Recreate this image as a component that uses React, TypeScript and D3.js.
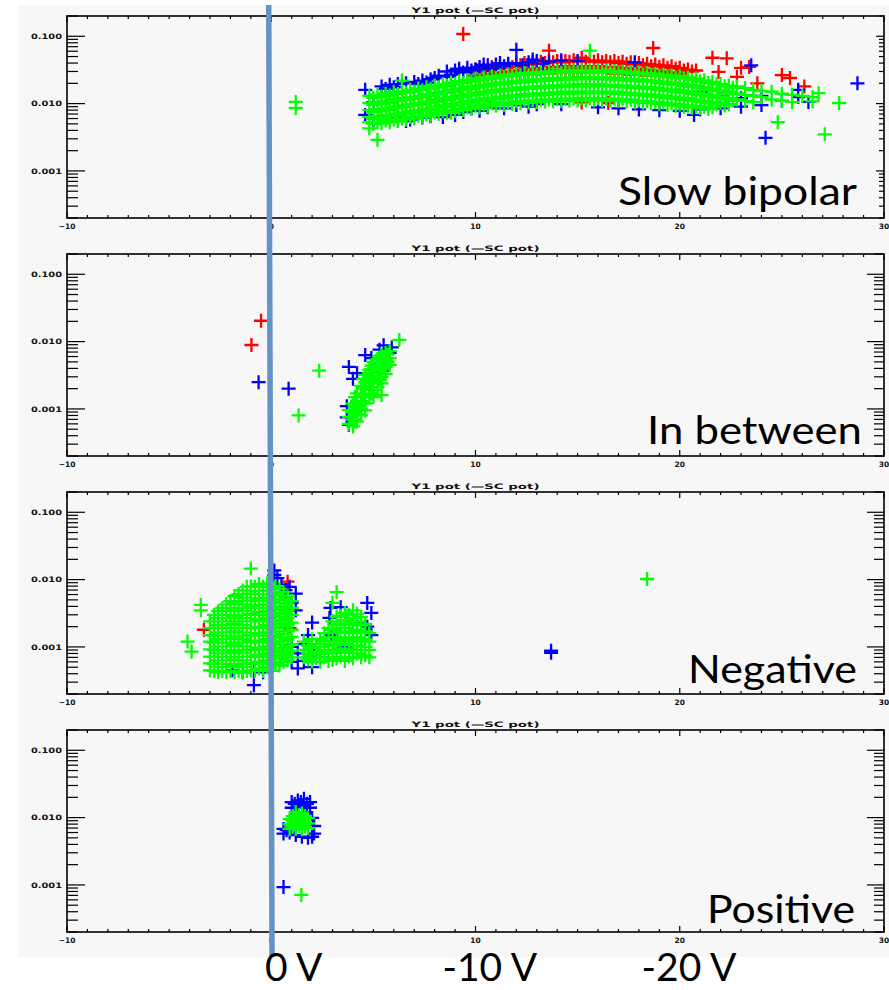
import React, { useEffect } from 'react';
import * as d3 from 'd3';

// ---------- axis definitions ----------
const xDomain = [-10, 30];
const yDomain = [0.0002, 0.2];
const xTickValues = [-10, 0, 10, 20, 30];
const xTickLabels = ['\u221210', '0', '10', '20', '30'];
const yTickValues = [0.1, 0.01, 0.001];
const yTickLabels = ['0.100', '0.010', '0.001'];
const panelTitle = 'Y1  pot (\u2014SC pot)';
const panelNames = ['Slow bipolar', 'In between', 'Negative', 'Positive'];
const voltLabels = ['0 V', '-10 V', '-20 V'];
const voltLabelCenters = [1.1, 10.7, 20.45];

// ---------- data: columns [x, y1, y2, ...] ----------
const slowGreen: number[][] = [
  [1.2, 0.0106, 0.0086],
  [4.8, 0.0043, 0.013, 0.0102, 0.008, 0.0063, 0.0053],
  [5.2, 0.0029, 0.0135, 0.0105, 0.0083, 0.0065, 0.0053],
  [5.6, 0.014, 0.011, 0.0086, 0.0068, 0.0056],
  [6.0, 0.0148, 0.0116, 0.009, 0.0071, 0.0058],
  [6.4, 0.022, 0.0152, 0.012, 0.0094, 0.0074, 0.006],
  [6.8, 0.016, 0.0125, 0.0098, 0.0077, 0.0063],
  [7.2, 0.0168, 0.013, 0.0102, 0.008, 0.0066],
  [7.6, 0.0175, 0.0138, 0.0108, 0.0085, 0.0069],
  [8.0, 0.0185, 0.0145, 0.0114, 0.009, 0.0073],
  [8.4, 0.0195, 0.0152, 0.012, 0.0094, 0.0077],
  [8.8, 0.0205, 0.016, 0.0126, 0.0099, 0.008, 0.0073],
  [9.2, 0.0215, 0.0168, 0.0132, 0.0104, 0.0084],
  [9.6, 0.0225, 0.0177, 0.0139, 0.0109, 0.0088],
  [10.0, 0.0235, 0.0185, 0.0145, 0.0114, 0.0093],
  [10.4, 0.0245, 0.0192, 0.0151, 0.0119, 0.0097],
  [10.8, 0.0255, 0.02, 0.0157, 0.0123, 0.0101],
  [11.2, 0.0262, 0.0206, 0.0162, 0.0127, 0.0104],
  [11.6, 0.027, 0.0212, 0.0167, 0.0131, 0.0106],
  [12.0, 0.0278, 0.0218, 0.0172, 0.0135, 0.0108],
  [12.4, 0.0285, 0.0224, 0.0176, 0.0138, 0.011],
  [12.8, 0.029, 0.0228, 0.0179, 0.0141, 0.0112],
  [13.2, 0.0295, 0.0232, 0.0182, 0.0143, 0.0114],
  [13.6, 0.03, 0.0236, 0.0185, 0.0145, 0.0115],
  [14.0, 0.0305, 0.024, 0.0188, 0.0148, 0.0117],
  [14.4, 0.031, 0.0243, 0.019, 0.015, 0.0118],
  [14.8, 0.0312, 0.0245, 0.0192, 0.0151, 0.0119],
  [15.2, 0.0315, 0.0247, 0.0194, 0.0152, 0.012],
  [15.6, 0.061, 0.0315, 0.0247, 0.0194, 0.0152, 0.012],
  [16.0, 0.0315, 0.0247, 0.0194, 0.0152, 0.012],
  [16.4, 0.031, 0.0244, 0.0192, 0.0151, 0.0119],
  [16.8, 0.0305, 0.024, 0.019, 0.015, 0.0118],
  [17.2, 0.03, 0.0236, 0.0186, 0.0147, 0.0116],
  [17.6, 0.0295, 0.0232, 0.0183, 0.0144, 0.0114],
  [18.0, 0.029, 0.0228, 0.018, 0.0141, 0.0111],
  [18.4, 0.0284, 0.0223, 0.0176, 0.0138, 0.0109],
  [18.8, 0.0278, 0.0218, 0.0172, 0.0135, 0.0106],
  [19.2, 0.027, 0.0212, 0.0167, 0.0131, 0.0103],
  [19.6, 0.0262, 0.0206, 0.0162, 0.0127, 0.01],
  [20.0, 0.0255, 0.02, 0.0157, 0.0123, 0.0097],
  [20.4, 0.0245, 0.0193, 0.0152, 0.012, 0.0094],
  [20.8, 0.0235, 0.0185, 0.0146, 0.0115, 0.0092],
  [21.2, 0.0222, 0.0176, 0.014, 0.011, 0.009],
  [21.6, 0.021, 0.0167, 0.0134, 0.0106, 0.0088],
  [22.0, 0.0195, 0.0157, 0.0127, 0.0102],
  [22.4, 0.0185, 0.015, 0.012, 0.0098],
  [22.8, 0.018, 0.0142, 0.0115],
  [23.2, 0.017, 0.0135, 0.011],
  [23.6, 0.016, 0.013, 0.0105],
  [24.0, 0.0155, 0.0125],
  [24.5, 0.015, 0.0115],
  [24.8, 0.0053],
  [25.0, 0.014, 0.011],
  [25.5, 0.0135, 0.0105],
  [26.0, 0.013],
  [26.5, 0.0125, 0.0108],
  [26.8, 0.0143],
  [27.1, 0.0035],
  [27.8, 0.0102],
  [5.0, 0.0122, 0.0096, 0.0075, 0.0059, 0.005],
  [5.4, 0.0127, 0.0099, 0.0078, 0.0061, 0.0051],
  [5.8, 0.0132, 0.0103, 0.0081, 0.0064, 0.0053],
  [6.2, 0.0139, 0.0109, 0.0085, 0.0067, 0.0055],
  [6.6, 0.0144, 0.0113, 0.0089, 0.007, 0.0058],
  [7.0, 0.0151, 0.0118, 0.0093, 0.0073, 0.006],
  [7.4, 0.0158, 0.0124, 0.0097, 0.0076, 0.0063],
  [7.8, 0.0166, 0.013, 0.0102, 0.008, 0.0066],
  [8.2, 0.0175, 0.0137, 0.0107, 0.0084, 0.007],
  [8.6, 0.0184, 0.0144, 0.0113, 0.0089, 0.0073],
  [9.0, 0.0194, 0.0151, 0.0119, 0.0093, 0.0077],
  [9.4, 0.0203, 0.0159, 0.0125, 0.0098, 0.008],
  [9.8, 0.0213, 0.0166, 0.0131, 0.0103, 0.0084],
  [10.2, 0.0222, 0.0174, 0.0137, 0.0107, 0.0088],
  [10.6, 0.0232, 0.0181, 0.0143, 0.0112, 0.0091],
  [11.0, 0.024, 0.0188, 0.0148, 0.0116, 0.0094],
  [11.4, 0.0248, 0.0194, 0.0153, 0.012, 0.0096],
  [11.8, 0.0256, 0.02, 0.0157, 0.0124, 0.0099],
  [12.2, 0.0263, 0.0205, 0.0161, 0.0127, 0.0101],
  [12.6, 0.0268, 0.021, 0.0165, 0.013, 0.0103],
  [13.0, 0.0274, 0.0214, 0.0168, 0.0132, 0.0105],
  [13.4, 0.0278, 0.0218, 0.0171, 0.0134, 0.0107],
  [13.8, 0.0283, 0.0222, 0.0174, 0.0137, 0.0108],
  [14.2, 0.0287, 0.0225, 0.0177, 0.0139, 0.0109],
  [14.6, 0.029, 0.0228, 0.0179, 0.0141, 0.011],
  [15.0, 0.0294, 0.0231, 0.0181, 0.0142, 0.0111],
  [15.4, 0.0296, 0.0232, 0.0182, 0.0143, 0.0112],
  [15.8, 0.0296, 0.0232, 0.0182, 0.0143, 0.0112],
  [16.2, 0.0294, 0.023, 0.0181, 0.0142, 0.0111],
  [16.6, 0.029, 0.0228, 0.0179, 0.0141, 0.011],
  [17.0, 0.0286, 0.0224, 0.0176, 0.0139, 0.0109],
  [17.4, 0.0281, 0.022, 0.0173, 0.0136, 0.0107],
  [17.8, 0.0276, 0.0216, 0.017, 0.0134, 0.0105],
  [18.2, 0.0271, 0.0212, 0.0167, 0.0131, 0.0103],
  [18.6, 0.0265, 0.0208, 0.0164, 0.0128, 0.0101],
  [19.0, 0.0258, 0.0202, 0.0159, 0.0125, 0.0098],
  [19.4, 0.025, 0.0196, 0.0155, 0.0121, 0.0095],
  [19.8, 0.0243, 0.019, 0.015, 0.0118, 0.0093],
  [20.2, 0.0235, 0.0184, 0.0145, 0.0114, 0.009],
  [20.6, 0.0225, 0.0177, 0.014, 0.011, 0.0087],
  [21.0, 0.0214, 0.0168, 0.0133, 0.0105, 0.0085],
  [21.4, 0.0203, 0.016, 0.0127, 0.0101, 0.0083],
  [21.8, 0.0192, 0.0153, 0.0122, 0.0098],
  [22.2, 0.0181, 0.0145, 0.0116, 0.0094],
  [22.6, 0.0172, 0.0138, 0.011],
];

const slowRed: number[][] = [
  [9.4, 0.108],
  [9.6, 0.029],
  [10.0, 0.032, 0.026],
  [10.4, 0.033, 0.027],
  [10.8, 0.035, 0.028],
  [10.9, 0.0104],
  [11.2, 0.036, 0.029],
  [11.6, 0.037, 0.03],
  [12.0, 0.039, 0.031],
  [12.4, 0.04, 0.032, 0.027],
  [12.8, 0.041, 0.033, 0.027],
  [13.2, 0.042, 0.034, 0.028],
  [13.6, 0.061, 0.043, 0.035, 0.028],
  [14.0, 0.043, 0.035, 0.029],
  [14.4, 0.043, 0.036, 0.029],
  [14.8, 0.044, 0.036, 0.029],
  [15.2, 0.048, 0.044, 0.036, 0.029, 0.0104],
  [15.6, 0.044, 0.036, 0.029],
  [16.0, 0.044, 0.036, 0.029],
  [16.4, 0.043, 0.035, 0.029],
  [16.5, 0.0102],
  [16.8, 0.043, 0.035, 0.028],
  [17.2, 0.042, 0.034, 0.028],
  [17.6, 0.041, 0.034, 0.027],
  [18.0, 0.04, 0.033, 0.027],
  [18.4, 0.039, 0.032, 0.026],
  [18.7, 0.067],
  [18.8, 0.038, 0.031],
  [19.2, 0.037, 0.03],
  [19.6, 0.036, 0.029],
  [20.0, 0.034, 0.028],
  [20.4, 0.032],
  [20.8, 0.031],
  [21.6, 0.048],
  [21.9, 0.0295],
  [22.3, 0.047],
  [22.8, 0.025],
  [23.0, 0.034],
  [23.4, 0.035],
  [23.8, 0.02],
  [25.0, 0.0265],
  [25.4, 0.024],
  [26.1, 0.018],
  [10.2, 0.03, 0.0245],
  [10.6, 0.031, 0.025],
  [11.0, 0.033, 0.026],
  [11.4, 0.034, 0.027],
  [11.8, 0.035, 0.028],
  [12.2, 0.037, 0.029],
  [12.6, 0.038, 0.03],
  [13.0, 0.039, 0.031],
  [13.4, 0.04, 0.031],
  [13.8, 0.041, 0.032],
  [14.2, 0.041, 0.032],
  [14.6, 0.042, 0.033],
  [15.0, 0.042, 0.033],
  [15.4, 0.042, 0.033],
  [15.8, 0.042, 0.033],
  [16.2, 0.041, 0.032],
  [16.6, 0.041, 0.032],
  [17.0, 0.04, 0.031],
  [17.4, 0.039, 0.031],
  [17.8, 0.038, 0.03],
  [18.2, 0.037, 0.03],
  [18.6, 0.036, 0.029],
  [19.0, 0.035, 0.028],
  [19.4, 0.034, 0.027],
  [19.8, 0.033, 0.026],
  [20.2, 0.031],
  [20.6, 0.03],
];

const slowBlue: number[][] = [
  [4.6, 0.016, 0.0068],
  [5.0, 0.0105, 0.0052],
  [5.4, 0.018],
  [5.6, 0.0165],
  [5.8, 0.019],
  [6.0, 0.0175],
  [6.2, 0.0195, 0.0062],
  [6.6, 0.02, 0.0055],
  [6.8, 0.0058],
  [7.0, 0.021],
  [7.2, 0.0195],
  [7.4, 0.022, 0.0062],
  [7.6, 0.0205],
  [7.8, 0.023, 0.0065],
  [8.0, 0.024],
  [8.2, 0.026],
  [8.4, 0.0063],
  [8.6, 0.03, 0.025],
  [8.8, 0.027],
  [9.0, 0.031, 0.0068],
  [9.2, 0.033],
  [9.4, 0.029, 0.0075],
  [9.6, 0.034],
  [9.8, 0.031, 0.0085],
  [10.0, 0.032],
  [10.2, 0.035, 0.0078],
  [10.4, 0.038],
  [10.6, 0.037, 0.0088],
  [10.8, 0.033],
  [11.0, 0.038],
  [11.2, 0.04],
  [11.4, 0.036, 0.0085],
  [11.6, 0.039],
  [12.0, 0.063, 0.04, 0.0095],
  [12.3, 0.037],
  [12.6, 0.041, 0.009],
  [12.8, 0.045],
  [13.0, 0.043, 0.0098],
  [13.3, 0.039],
  [13.6, 0.042],
  [14.2, 0.044, 0.0098],
  [15.0, 0.043],
  [16.0, 0.0088],
  [17.0, 0.0085],
  [17.8, 0.041],
  [18.0, 0.0082],
  [19.0, 0.008],
  [20.0, 0.0078],
  [20.7, 0.0068],
  [21.0, 0.0082, 0.015],
  [22.0, 0.0085, 0.013],
  [23.0, 0.009, 0.012],
  [23.5, 0.037],
  [24.0, 0.0095, 0.013],
  [24.2, 0.0031],
  [25.0, 0.011],
  [25.8, 0.0125, 0.016],
  [26.3, 0.0106],
  [28.7, 0.02],
];

const betweenRed: number[][] = [
  [-0.97, 0.0089],
  [-0.5, 0.0204],
];

const betweenBlue: number[][] = [
  [-0.62, 0.0025],
  [0.85, 0.002],
  [3.7, 0.0011, 0.00075],
  [3.8, 0.0042, 0.00058],
  [4.0, 0.0028],
  [4.2, 0.0034],
  [4.6, 0.0063],
  [4.9, 0.0057],
  [5.2, 0.0048],
  [5.3, 0.0076],
  [5.5, 0.0088],
  [5.7, 0.0045],
  [5.8, 0.0068],
  [5.9, 0.0082],
];

const betweenGreen: number[][] = [
  [1.34, 0.0008],
  [2.35, 0.0037],
  [3.8, 0.00096, 0.00076, 0.0006],
  [4.0, 0.0012, 0.0009, 0.0007, 0.00055],
  [4.2, 0.0017, 0.0013, 0.00105, 0.00083, 0.00065],
  [4.4, 0.0022, 0.0017, 0.0013, 0.001, 0.0008],
  [4.6, 0.0032, 0.0025, 0.002, 0.0016, 0.0012, 0.00095],
  [4.8, 0.0038, 0.003, 0.0024, 0.0019, 0.0015],
  [5.0, 0.005, 0.004, 0.0031, 0.0025, 0.0019, 0.0015],
  [5.2, 0.0055, 0.0043, 0.0034, 0.0027, 0.0021],
  [5.4, 0.0063, 0.005, 0.0039, 0.003, 0.0024, 0.0016],
  [5.6, 0.0068, 0.0054, 0.0042, 0.0033],
  [5.8, 0.0072, 0.0057, 0.0045],
  [6.27, 0.0106],
  [4.1, 0.0015, 0.0011, 0.00085, 0.00065],
  [4.5, 0.0028, 0.0021, 0.0016, 0.0012],
  [4.9, 0.0044, 0.0034, 0.0027, 0.0021, 0.0017],
  [5.3, 0.0058, 0.0046, 0.0036, 0.0028],
  [5.7, 0.0064, 0.005],
];

const negRed: number[][] = [
  [-3.3, 0.0018],
  [0.55, 0.00084],
  [0.8, 0.0093],
  [0.85, 0.0035],
  [0.9, 0.0019],
];

const negBlue: number[][] = [
  [-1.9, 0.00045],
  [-1.4, 0.00042],
  [-0.85, 0.00027, 0.00044],
  [-0.4, 0.00042],
  [0.15, 0.0137, 0.0117],
  [0.3, 0.0105],
  [0.5, 0.0085],
  [0.7, 0.007, 0.0055],
  [0.9, 0.0078],
  [1.0, 0.0045, 0.001, 0.0006],
  [1.2, 0.0035, 0.0062],
  [1.3, 0.0008, 0.00048],
  [1.6, 0.0011, 0.00062],
  [1.8, 0.0015],
  [2.0, 0.0023, 0.0009, 0.0005],
  [2.4, 0.0007],
  [2.85, 0.0027],
  [2.9, 0.0038],
  [2.95, 0.0015],
  [3.4, 0.0039],
  [3.6, 0.001],
  [4.0, 0.0023],
  [4.2, 0.0023],
  [4.7, 0.0045, 0.002],
  [4.9, 0.0015, 0.0032],
  [13.7, 0.00088, 0.00082],
];

const negGreen: number[][] = [
  [-4.1, 0.0012],
  [-3.9, 0.00085],
  [-3.45, 0.0042, 0.0035],
  [-3.0, 0.0024, 0.0019, 0.0015, 0.0012, 0.00092, 0.00072, 0.00057, 0.00045],
  [-2.6, 0.0034, 0.0027, 0.0021, 0.00165, 0.0013, 0.00102, 0.0008, 0.00063, 0.0005, 0.00042],
  [-2.2, 0.0043, 0.0034, 0.0027, 0.0021, 0.00165, 0.0013, 0.00102, 0.0008, 0.00063, 0.0005, 0.00042],
  [-1.8, 0.0057, 0.0045, 0.0035, 0.0028, 0.0022, 0.0017, 0.00135, 0.00106, 0.00083, 0.00065, 0.00052, 0.00042],
  [-1.4, 0.0069, 0.0054, 0.0043, 0.0034, 0.0027, 0.0021, 0.00165, 0.0013, 0.00102, 0.0008, 0.00063, 0.0005, 0.00042],
  [-1.0, 0.0146, 0.0079, 0.0062, 0.0049, 0.0039, 0.0031, 0.0024, 0.0019, 0.0015, 0.0012, 0.00092, 0.00072, 0.00057, 0.00045],
  [-0.6, 0.0086, 0.0068, 0.0053, 0.0042, 0.0033, 0.0026, 0.002, 0.0016, 0.00125, 0.00098, 0.00077, 0.0006, 0.00048],
  [-0.2, 0.0088, 0.0069, 0.0054, 0.0043, 0.0034, 0.0027, 0.0021, 0.00165, 0.0013, 0.00102, 0.0008, 0.00063, 0.0005],
  [0.2, 0.008, 0.0063, 0.005, 0.0039, 0.0031, 0.0024, 0.0019, 0.0015, 0.0012, 0.00094, 0.00074, 0.00058],
  [0.6, 0.0065, 0.0051, 0.004, 0.0032, 0.0025, 0.002, 0.00155, 0.00122, 0.00096, 0.00076, 0.0006],
  [1.0, 0.0048, 0.0038, 0.003, 0.0023, 0.0018, 0.0014, 0.0011, 0.00088, 0.0007],
  [1.6, 0.0012, 0.0009, 0.0007],
  [2.0, 0.0013, 0.00098, 0.00075, 0.0006],
  [2.4, 0.0013, 0.001, 0.00078, 0.0006],
  [2.8, 0.0019, 0.0014, 0.0011, 0.00082, 0.00062],
  [3.0, 0.0045, 0.0024, 0.0018, 0.0014, 0.00105, 0.0008, 0.00064],
  [3.2, 0.0065, 0.0028, 0.0021, 0.0016, 0.0012, 0.0009, 0.00068],
  [3.6, 0.0032, 0.0025, 0.0019, 0.0014, 0.0011, 0.00082, 0.00062],
  [4.0, 0.0035, 0.0027, 0.0021, 0.0016, 0.0012, 0.0009, 0.00068],
  [4.4, 0.0028, 0.0021, 0.0016, 0.0012, 0.0009, 0.0007],
  [4.8, 0.0016, 0.0012, 0.0009, 0.0007],
  [18.4, 0.0102],
  [-2.8, 0.003, 0.0024, 0.0019, 0.00147, 0.00116, 0.0009, 0.00071, 0.00056, 0.00044],
  [-2.4, 0.0038, 0.003, 0.0024, 0.0019, 0.00147, 0.00116, 0.0009, 0.00071, 0.00056, 0.00044],
  [-2.0, 0.0048, 0.0038, 0.003, 0.0024, 0.0019, 0.00147, 0.00116, 0.0009, 0.00071, 0.00056, 0.00044],
  [-1.6, 0.0061, 0.0048, 0.0038, 0.003, 0.0024, 0.0019, 0.00147, 0.00116, 0.0009, 0.00071, 0.00056, 0.00044],
  [-1.2, 0.0078, 0.0061, 0.0048, 0.0038, 0.003, 0.0024, 0.0019, 0.00147, 0.00116, 0.0009, 0.00071, 0.00056, 0.00044],
  [-0.8, 0.0078, 0.0061, 0.0048, 0.0038, 0.003, 0.0024, 0.0019, 0.00147, 0.00116, 0.0009, 0.00071, 0.00056, 0.00044],
  [-0.4, 0.0078, 0.0061, 0.0048, 0.0038, 0.003, 0.0024, 0.0019, 0.00147, 0.00116, 0.0009, 0.00071, 0.00056, 0.00044],
  [0.0, 0.0078, 0.0061, 0.0048, 0.0038, 0.003, 0.0024, 0.0019, 0.00147, 0.00116, 0.0009, 0.00071, 0.00056, 0.00044],
  [0.4, 0.0072, 0.0058, 0.0045, 0.0036, 0.0028, 0.0022, 0.0017, 0.00138, 0.00108, 0.00085, 0.00067, 0.00053],
  [0.8, 0.0056, 0.0044, 0.0035, 0.0027, 0.0021, 0.0017, 0.0013, 0.00102, 0.0008, 0.00063],
  [1.8, 0.00105, 0.0008, 0.00065],
  [2.2, 0.0011, 0.00085, 0.00068],
  [2.6, 0.0016, 0.0012, 0.0009, 0.0007],
  [3.4, 0.0029, 0.0022, 0.0017, 0.0013, 0.00095, 0.00072],
  [3.8, 0.003, 0.0023, 0.0017, 0.0013, 0.00095, 0.00072],
  [4.2, 0.0031, 0.0024, 0.0018, 0.0014, 0.00105, 0.0008],
  [4.6, 0.0022, 0.0017, 0.0013, 0.001, 0.00075],
];

const posRed: number[][] = [];

const posBlue: number[][] = [
  [0.6, 0.00093, 0.0068, 0.0058],
  [0.75, 0.0065],
  [0.9, 0.006],
  [1.0, 0.017, 0.014],
  [1.15, 0.016],
  [1.2, 0.0055],
  [1.3, 0.018, 0.0145, 0.012],
  [1.45, 0.017],
  [1.5, 0.0052],
  [1.6, 0.019, 0.015, 0.012],
  [1.75, 0.016],
  [1.8, 0.005],
  [1.9, 0.017, 0.014],
  [2.0, 0.0099, 0.0052],
  [2.1, 0.0058, 0.0075],
];

const posGreen: number[][] = [
  [0.9, 0.0095, 0.008, 0.0068],
  [1.05, 0.0105, 0.0088, 0.0074],
  [1.2, 0.012, 0.0098, 0.0082, 0.0068],
  [1.35, 0.0108, 0.009, 0.0075],
  [1.47, 0.00071],
  [1.5, 0.0115, 0.0095, 0.008, 0.0067],
  [1.65, 0.0105, 0.0088, 0.0074],
  [1.8, 0.0098, 0.0082, 0.007],
];

// ---------- layout ----------
const W = 889;
const H = 990;
const X0 = 67;
const X1 = 884;
const PANEL_TOPS = [16, 254, 492, 730];
const PANEL_H = 202;
const NAME_BOXES = [
  { x0: 618, x1: 857, base: 205 },
  { x0: 647, x1: 862, base: 444 },
  { x0: 688, x1: 857, base: 683 },
  { x0: 707, x1: 855, base: 923 },
];
const PANEL_DATA = [
  { red: slowRed, blue: slowBlue, green: slowGreen },
  { red: betweenRed, blue: betweenBlue, green: betweenGreen },
  { red: negRed, blue: negBlue, green: negGreen },
  { red: posRed, blue: posBlue, green: posGreen },
];
const RIGHT_TICKS = [
  { major: 8, minor: 5 },
  { major: 17, minor: 10 },
  { major: 17, minor: 10 },
  { major: 17, minor: 10 },
];

const xScale = d3.scaleLinear().domain(xDomain).range([X0, X1]);

function toPoints(cols: number[][]): [number, number][] {
  return cols.flatMap((c) => c.slice(1).map((y) => [c[0], y] as [number, number]));
}

function crossPath(pts: [number, number][], y: d3.ScaleLogarithmic<number, number>, r: number) {
  const p = d3.path();
  pts.forEach(([a, b]) => {
    const px = xScale(a);
    const py = y(b);
    p.moveTo(px - r, py);
    p.lineTo(px + r, py);
    p.moveTo(px, py - r);
    p.lineTo(px, py + r);
  });
  return p.toString();
}

const tickFont = "'DejaVu Sans', sans-serif";

function Panel({ idx }: { idx: number }) {
  const top = PANEL_TOPS[idx];
  const bottom = top + PANEL_H;
  const y = d3.scaleLog().domain(yDomain).range([bottom, top]);
  const yt = y.ticks();
  const xt = xScale.ticks(40);
  const isDecade = (t: number) => Math.abs(Math.log10(t) - Math.round(Math.log10(t))) < 1e-9;
  const d = PANEL_DATA[idx];
  const nb = NAME_BOXES[idx];
  const rt = RIGHT_TICKS[idx];
  const r = 7;
  return (
    <g>
      <path d={crossPath(toPoints(d.red), y, r)} stroke="#ff0000" strokeWidth={2.3} fill="none" />
      <path d={crossPath(toPoints(d.blue), y, r)} stroke="#0000ff" strokeWidth={2.3} fill="none" />
      <path d={crossPath(toPoints(d.green), y, r)} stroke="#00ff00" strokeWidth={2.3} fill="none" />
      <rect x={X0} y={top} width={X1 - X0} height={PANEL_H} fill="none" stroke="#000" strokeWidth={1.6} />
      {yt.map((t, i) => {
        const maj = isDecade(t);
        const py = y(t);
        return (
          <g key={'y' + i}>
            <line x1={X0} x2={X0 + (maj ? 18 : 11)} y1={py} y2={py} stroke="#000" strokeWidth={1.2} />
            <line x1={X1} x2={X1 - (maj ? rt.major : rt.minor)} y1={py} y2={py} stroke="#000" strokeWidth={1.2} />
          </g>
        );
      })}
      {xt.map((t, i) => {
        const maj = t % 10 === 0;
        const px = xScale(t);
        const len = maj ? 6 : 3;
        return (
          <g key={'x' + i}>
            <line x1={px} x2={px} y1={top} y2={top + len} stroke="#000" strokeWidth={1.2} />
            <line x1={px} x2={px} y1={bottom} y2={bottom - len} stroke="#000" strokeWidth={1.2} />
          </g>
        );
      })}
      {yTickValues.map((t, i) => (
        <text key={'yl' + i} x={62} y={y(t) + 2.8} textAnchor="end" fontFamily={tickFont} fontSize={7.5}
          fontWeight="bold" fill="#111" textLength={31} lengthAdjust="spacingAndGlyphs">
          {yTickLabels[i]}
        </text>
      ))}
      {xTickValues.map((t, i) => (
        <text key={'xl' + i} x={xScale(t)} y={bottom + 10.5} textAnchor="middle" fontFamily={tickFont}
          fontSize={7.5} fontWeight="bold" fill="#111">
          {xTickLabels[i]}
        </text>
      ))}
      <text x={(X0 + X1) / 2} y={top - 3} textAnchor="middle" fontFamily={tickFont} fontSize={7.5}
        fontWeight="bold" fill="#111" textLength={128} lengthAdjust="spacingAndGlyphs">
        {panelTitle}
      </text>
      <text x={nb.x0} y={nb.base} fontFamily="Lato, 'Open Sans', sans-serif" fontSize={39} fill="#000"
        textLength={nb.x1 - nb.x0} lengthAdjust="spacingAndGlyphs">
        {panelNames[idx]}
      </text>
    </g>
  );
}

export default function App() {
  useEffect(() => {
    document.body.style.margin = '0';
    document.body.style.background = '#fff';
  }, []);
  const x0 = xScale(0);
  return (
    <svg width={W} height={H} viewBox={`0 0 ${W} ${H}`} style={{ position: 'absolute', left: 0, top: 0, display: 'block' }}>
      <rect x={0} y={0} width={W} height={H} fill="#fff" />
      <rect x={18} y={5} width={W - 18} height={952} fill="#f7f7f7" />
      {PANEL_TOPS.map((_, i) => (
        <Panel key={i} idx={i} />
      ))}
      <line x1={x0 - 2.5} y1={5} x2={x0 + 0.8} y2={957} stroke="#6593c5" strokeWidth={5.5} />
      {voltLabels.map((l, i) => (
        <text key={l} x={xScale(voltLabelCenters[i])} y={981} textAnchor="middle"
          fontFamily="Lato, 'Open Sans', sans-serif" fontSize={39} fill="#000">
          {l}
        </text>
      ))}
    </svg>
  );
}
